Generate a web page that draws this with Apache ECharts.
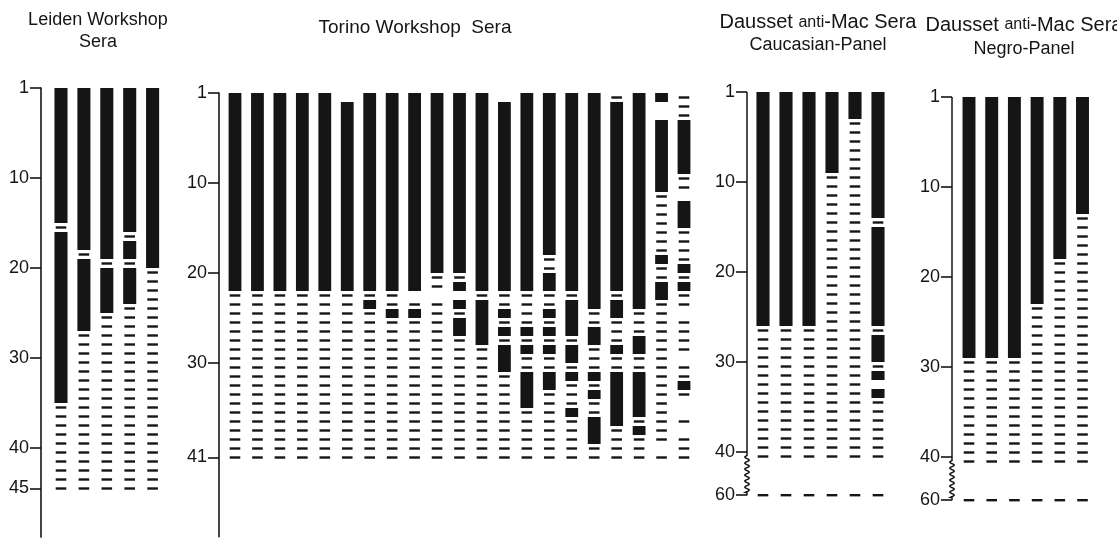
<!DOCTYPE html>
<html>
<head>
<meta charset="utf-8">
<title>Sera reaction patterns</title>
<script src="https://cdn.jsdelivr.net/npm/echarts@6.0.0/dist/echarts.min.js"></script>
<style>html,body{margin:0;padding:0;background:#fff}</style>
</head>
<body>
<div id="chart" style="width:1117px;height:540px;"></div>
<script>
// positive reactions of each serum as [from, to] row ranges (drawn black),
// every other row is negative (dash), "untested" rows stay empty
const leidenPositive = [
  [[1, 15], [17, 35]],
  [[1, 18], [20, 27]],
  [[1, 19], [21, 25]],
  [[1, 16], [18, 19], [21, 24]],
  [[1, 20]]
];
const leidenUntested = [[], [], [], [], []];
const leidenRowCount = 45;
const leidenTicks = [1, 10, 20, 30, 40, 45];

const torinoPositive = [
  [[1, 22]],
  [[1, 22]],
  [[1, 22]],
  [[1, 22]],
  [[1, 22]],
  [[2, 22]],
  [[1, 22], [24, 24]],
  [[1, 22], [25, 25]],
  [[1, 22], [25, 25]],
  [[1, 20]],
  [[1, 20], [22, 22], [24, 24], [26, 27]],
  [[1, 22], [24, 28]],
  [[2, 22], [25, 25], [27, 27], [29, 31]],
  [[1, 22], [27, 27], [29, 29], [32, 35]],
  [[1, 18], [21, 22], [25, 25], [27, 27], [29, 29], [32, 33]],
  [[1, 22], [24, 27], [29, 30], [32, 32], [36, 36]],
  [[1, 24], [27, 28], [32, 32], [34, 34], [37, 39]],
  [[2, 22], [24, 25], [29, 29], [32, 37]],
  [[1, 24], [28, 29], [32, 36], [38, 38]],
  [[1, 1], [4, 11], [19, 19], [22, 23]],
  [[4, 9], [13, 15], [20, 20], [22, 22], [33, 33]]
];
const torinoUntested = [
  [], [], [], [], [], [1], [], [], [23], [23], [23], [], [1], [], [], [], [], [], [],
  [2, 3, 40],
  [12, 25, 30, 35, 36, 38]
];
const torinoRowCount = 41;
const torinoTicks = [1, 10, 20, 30, 41];

const caucasianPositive = [
  [[1, 26]],
  [[1, 26]],
  [[1, 26]],
  [[1, 9]],
  [[1, 3]],
  [[1, 14], [16, 26], [28, 30], [32, 32], [34, 34]]
];
const caucasianUntested = [[], [], [], [], [], [33]];

const negroPositive = [
  [[1, 29]],
  [[1, 29]],
  [[1, 29]],
  [[1, 23]],
  [[1, 18]],
  [[1, 13]]
];
const negroUntested = [[], [], [], [], [], []];

const daussetRowCount = 41;
const daussetExtraRow = 60;
const daussetTicks = [1, 10, 20, 30, 40, 60];

const ink = '#151515';
const font = 'Liberation Sans, Arial, sans-serif';
const rowPx = 9;

const panels = [
  { positive: leidenPositive, untested: leidenUntested, rows: leidenRowCount, extra: null,
    ticks: leidenTicks, axisX: 41, firstX: 61, pitch: 22.9, top: 88, yMax: 49.9, wavy: false },
  { positive: torinoPositive, untested: torinoUntested, rows: torinoRowCount, extra: null,
    ticks: torinoTicks, axisX: 219, firstX: 235, pitch: 22.45, top: 93, yMax: 49.3, wavy: false },
  { positive: caucasianPositive, untested: caucasianUntested, rows: daussetRowCount, extra: daussetExtraRow,
    ticks: daussetTicks, axisX: 747, firstX: 763, pitch: 23, top: 92, yMax: 44.8, wavy: true },
  { positive: negroPositive, untested: negroUntested, rows: daussetRowCount, extra: daussetExtraRow,
    ticks: daussetTicks, axisX: 952, firstX: 969, pitch: 22.7, top: 97, yMax: 44.8, wavy: true }
];

const breakBottom = 45.3; // axis position of the bottom edge of the row after the break

function rowBottom(p, r) {
  return r <= p.rows ? r : breakBottom;
}
function tickPos(p, t) {
  if (t === 1) return 0;
  if (t === p.extra) return breakBottom - 0.5;
  if (t === p.rows && p.extra == null) return t - 0.5;
  return t;
}

function buildCells(p) {
  const items = [];
  const rowList = [];
  for (let r = 1; r <= p.rows; r++) rowList.push(r);
  if (p.extra != null) rowList.push(p.extra);
  p.positive.forEach((runs, ci) => {
    const col = ci + 1;
    runs.forEach(([a, b]) => items.push([col, a, b, 1]));
    rowList.forEach(r => {
      const pos = runs.some(([a, b]) => r >= a && r <= b);
      if (!pos && !p.untested[ci].includes(r)) items.push([col, r, r, 0]);
    });
  });
  return items;
}

const chart = echarts.init(document.getElementById('chart'));

const grid = [], xAxis = [], yAxis = [], series = [];

panels.forEach((p, i) => {
  const n = p.positive.length;
  p.xMin = 1 - (p.firstX - p.axisX) / p.pitch;
  p.xMax = n + 0.5;
  grid.push({
    left: p.axisX, top: p.top,
    width: (p.xMax - p.xMin) * p.pitch, height: p.yMax * rowPx,
    outerBoundsMode: 'none', containLabel: false
  });
  xAxis.push({ type: 'value', gridIndex: i, min: p.xMin, max: p.xMax, show: false });
  const positions = p.ticks.map(t => tickPos(p, t));
  yAxis.push({
    type: 'value', gridIndex: i, inverse: true, min: 0, max: p.yMax,
    axisLine: { show: !p.wavy, lineStyle: { color: ink, width: 1.6 } },
    axisTick: { show: true, customValues: positions, length: 11, lineStyle: { color: ink, width: 1.6 } },
    axisLabel: {
      customValues: positions, margin: 12, color: ink, fontSize: 18, fontFamily: font,
      formatter: v => {
        const k = positions.findIndex(q => Math.abs(q - v) < 1e-6);
        return k >= 0 ? String(p.ticks[k]) : '';
      }
    },
    splitLine: { show: false }
  });

  series.push({
    type: 'custom', xAxisIndex: i, yAxisIndex: i, clip: false, silent: true,
    data: buildCells(p),
    renderItem: (params, api) => {
      const col = api.value(0), a = api.value(1), b = api.value(2), kind = api.value(3);
      if (kind === 1) {
        const t = api.coord([col, rowBottom(p, a) - 1]);
        const btm = api.coord([col, rowBottom(p, b)]);
        const w = api.size([0.57, 0])[0];
        return { type: 'rect', shape: { x: t[0] - w / 2, y: t[1], width: w, height: btm[1] - t[1] },
                 style: { fill: ink } };
      }
      const c = api.coord([col, rowBottom(p, a) - 0.5]);
      return { type: 'rect', shape: { x: c[0] - 5.3, y: c[1] - 1.2, width: 10.6, height: 2.4 },
               style: { fill: ink } };
    }
  });

  if (p.wavy) {
    series.push({
      type: 'custom', xAxisIndex: i, yAxisIndex: i, clip: false, silent: true,
      data: [[p.xMin, 0]],
      renderItem: (params, api) => {
        const top = api.coord([p.xMin, 0]);
        const x = top[0];
        const w0 = api.coord([p.xMin, 40.4])[1];
        const w1 = api.coord([p.xMin, 44.5])[1];
        const end = api.coord([p.xMin, p.yMax])[1];
        const pts = [[x, top[1]], [x, w0]];
        for (let y = w0; y <= w1; y += 0.75) {
          pts.push([x - 2.2 * Math.sin((y - w0) / 6 * 2 * Math.PI), y]);
        }
        pts.push([x, w1], [x, end]);
        return { type: 'polyline', shape: { points: pts },
                 style: { stroke: ink, lineWidth: 1.5, fill: null } };
      }
    });
  }
});

const titleStyle = { fill: ink, fontSize: 18, fontFamily: font, align: 'center', verticalAlign: 'top' };
const daussetRich = (lh) => ({
  big: { fontSize: 20, fontFamily: font, fill: ink, lineHeight: lh },
  s: { fontSize: 16, fontFamily: font, fill: ink, lineHeight: lh },
  n: { fontSize: 18, fontFamily: font, fill: ink, lineHeight: lh }
});

chart.setOption({
  backgroundColor: '#ffffff',
  animation: false,
  grid, xAxis, yAxis, series,
  graphic: [
    { type: 'text', x: 98, y: 9,
      style: Object.assign({}, titleStyle, { text: 'Leiden Workshop\nSera', lineHeight: 22 }) },
    { type: 'text', x: 415, y: 17,
      style: Object.assign({}, titleStyle, { text: 'Torino Workshop  Sera', lineHeight: 22, fontSize: 19 }) },
    { type: 'text', x: 818, y: 11,
      style: Object.assign({}, titleStyle, {
        text: '{big|Dausset }{s|anti}{big|-Mac Sera}\n{n|Caucasian-Panel}',
        rich: daussetRich(23)
      }) },
    { type: 'text', x: 1024, y: 13,
      style: Object.assign({}, titleStyle, {
        text: '{big|Dausset }{s|anti}{big|-Mac Sera}\n{n|Negro-Panel}',
        rich: daussetRich(24)
      }) }
  ]
});
</script>
</body>
</html>
